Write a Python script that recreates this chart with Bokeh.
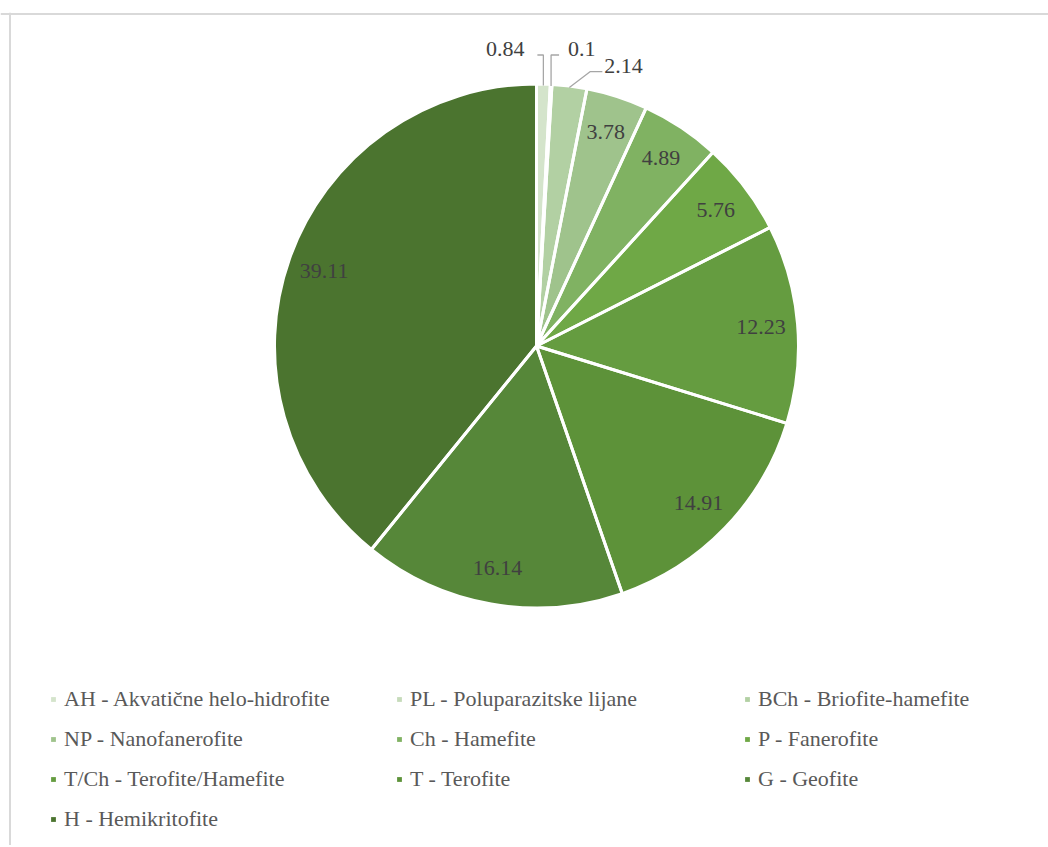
import math
from bokeh.plotting import figure
from bokeh.models import Range1d, Legend, LegendItem, ColumnDataSource, Span
from bokeh.embed import file_html
from bokeh.resources import INLINE

# ---- data ----
codes = ["AH", "PL", "BCh", "NP", "Ch", "P", "T/Ch", "T", "G", "H"]
names = ["Akvatične helo-hidrofite", "Poluparazitske lijane", "Briofite-hamefite",
         "Nanofanerofite", "Hamefite", "Fanerofite", "Terofite/Hamefite",
         "Terofite", "Geofite", "Hemikritofite"]
shares = [0.84, 0.1, 2.14, 3.78, 4.89, 5.76, 12.23, 14.91, 16.14, 39.11]
share_labels = ["0.84", "0.1", "2.14", "3.78", "4.89", "5.76", "12.23", "14.91", "16.14", "39.11"]
colors = ["#d4e4cb", "#c6dbba", "#b2d0a3", "#9fc38c", "#80b262", "#6fa846",
          "#659c40", "#5d9239", "#568739", "#4b742f"]

# ---- layout / style ----
W, H = 1048, 845
TOP_PAD = 12
FH = H - TOP_PAD
CX, CY, R = 536, H - 345.5, 262
LABEL_FRAC = 0.86
FONT = "Liberation Serif"
LABEL_SIZE = "22px"
LEGEND_SIZE = "22px"
# outside labels: index -> (elbow dx, elbow dy, end dx, text gap, text side)
leader_spec = {0: (0, 29, -6, 13, "right"),
               1: (0, 29, 8, 9, "left"),
               2: (21, 16, 12, 2, "left")}

total = sum(shares)
starts, ends, mids = [], [], []
cum = 0.0
for v in shares:
    a0 = cum / total * 2 * math.pi
    cum += v
    a1 = cum / total * 2 * math.pi
    starts.append(math.pi / 2 - a0)
    ends.append(math.pi / 2 - a1)
    mids.append((a0 + a1) / 2)

p = figure(width=W, height=H, x_range=Range1d(0, W), y_range=Range1d(0, FH),
           min_border=0, min_border_top=TOP_PAD, toolbar_location=None, output_backend="svg",
           x_axis_location=None, y_axis_location=None)
p.grid.visible = False
p.outline_line_color = None
p.background_fill_color = "white"

src = ColumnDataSource(dict(start=starts, end=ends, color=colors))
wedges = p.wedge(x=CX, y=CY, radius=R, start_angle="start", end_angle="end",
                 direction="clock", fill_color="color", line_color=None, source=src)
p.wedge(x=CX, y=CY, radius=R, start_angle="start", end_angle="end",
        direction="clock", fill_color=None, line_color="white", line_width=3, source=src)

# inside labels
in_x, in_y, in_t = [], [], []
for i, m in enumerate(mids):
    if i in leader_spec:
        continue
    in_x.append(CX + LABEL_FRAC * R * math.sin(m))
    in_y.append(CY + LABEL_FRAC * R * math.cos(m))
    in_t.append(share_labels[i])
p.text(x=in_x, y=in_y, text=in_t, text_font={"value": FONT}, text_font_size=LABEL_SIZE,
       text_color="#404040", text_align="center", text_baseline="middle")

# outside labels with leader lines
lx, ly = [], []
for i, (edx, edy, endx, gap, side) in leader_spec.items():
    m = mids[i]
    ax = CX + (R - 1.5) * math.sin(m)
    ay = CY + (R - 1.5) * math.cos(m)
    ex = ax + edx
    ey = (CY + R + edy) if edx == 0 else (ay + edy)
    fx = ex + endx
    lx.append([ax, ex, fx])
    ly.append([ay, ey, ey])
    tx = fx - gap if side == "right" else fx + gap
    p.text(x=[tx], y=[ey + 6], text=[share_labels[i]], text_font={"value": FONT},
           text_font_size=LABEL_SIZE, text_color="#404040", text_align=side,
           text_baseline="middle")
p.multi_line(xs=lx, ys=ly, line_color="#a6a6a6", line_width=1.3)

# frame lines (left and top)
p.add_layout(Span(location=9.5, dimension="height", line_color="#d9d9d9", line_width=2))
p.add_layout(Span(location=FH - 1.5, dimension="width", line_color="#d9d9d9", line_width=2))

# legend in three columns
columns = [[0, 3, 6, 9], [1, 4, 7], [2, 5, 8]]
col_x = [50, 396, 744]
col_y = [13, 53, 53]
labels_full = [f"{c} - {n}" for c, n in zip(codes, names)]
for idxs, x0, y0 in zip(columns, col_x, col_y):
    items = [LegendItem(label=labels_full[i], renderers=[wedges], index=i) for i in idxs]
    leg = Legend(items=items, location=(x0, y0), orientation="vertical",
                 glyph_width=6, glyph_height=6, label_standoff=8, spacing=13,
                 label_height=27, padding=0, margin=0, border_line_color=None,
                 background_fill_alpha=0, label_text_font=FONT,
                 label_text_font_size=LEGEND_SIZE, label_text_color="#595959")
    p.add_layout(leg)

open("out.html", "w").write(file_html(p, INLINE))
